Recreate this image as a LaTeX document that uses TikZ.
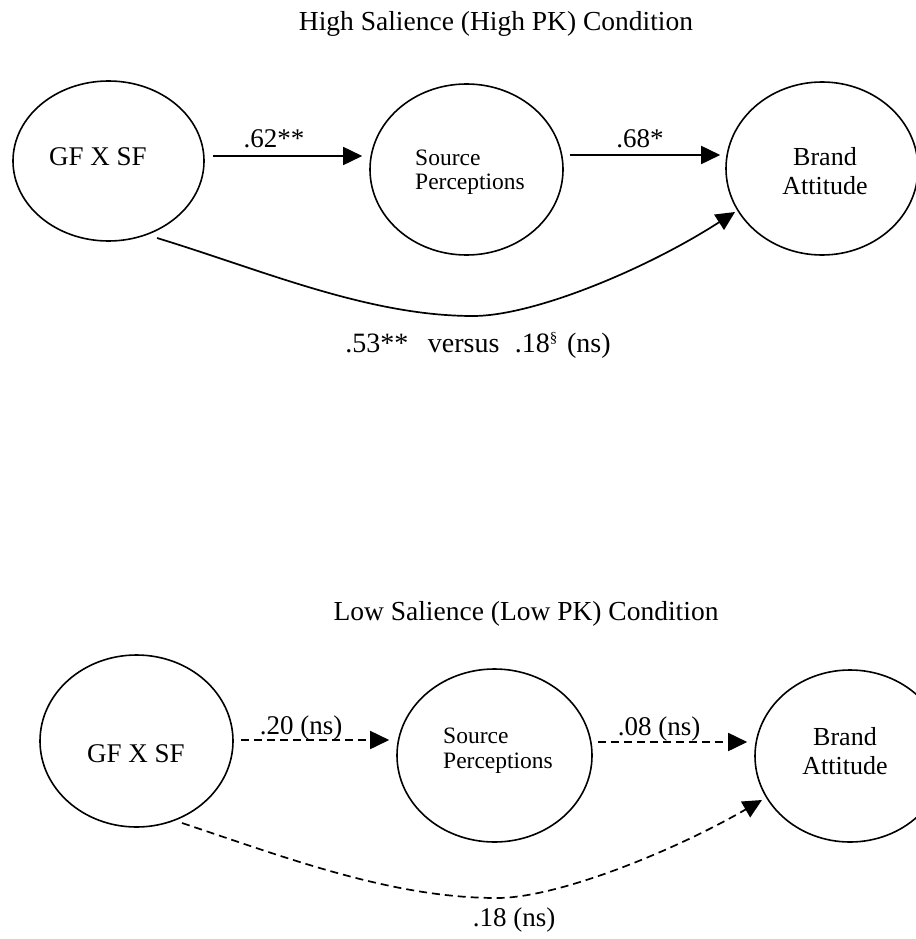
\documentclass[tikz,border=0pt]{standalone}
\usepackage{fontspec}
\setmainfont{Liberation Serif}
\usetikzlibrary{shapes.geometric,arrows.meta}
\begin{document}
\begin{tikzpicture}[x=1pt,y=-1pt,
  oval/.style={draw,ellipse,line width=1.6pt,inner sep=0pt},
  txt/.style={font=\fontsize{27}{30}\selectfont,inner sep=0pt,anchor=base},
  ttl/.style={font=\fontsize{27.5}{30}\selectfont,inner sep=0pt,anchor=base},
  sptxt/.style={font=\fontsize{23.5}{25}\selectfont,inner sep=0pt,anchor=base west},
  battxt/.style={font=\fontsize{26}{30}\selectfont,inner sep=0pt,anchor=base},
  arr/.style={line width=1.7pt,-{Triangle[length=19pt,width=18pt]}},
  darr/.style={arr,dash pattern=on 8pt off 5pt}]
\useasboundingbox (0,0) rectangle (915,939);
\fill[white] (0,0) rectangle (915,939);

% ---------- High salience ----------
\node[ttl] (t1) at (496,31) {High Salience (High PK) Condition};
\node[oval,minimum width=191pt,minimum height=160pt] (g1) at (108.5,161) {};
\node[oval,minimum width=193pt,minimum height=171pt] (s1) at (466.5,169.5) {};
\node[oval,minimum width=192pt,minimum height=173pt] (b1) at (822,168.5) {};
\node[txt] (g1t) at (98,165) {GF X SF};
\node[sptxt] (s1a) at (415,165) {Source};
\node[sptxt] (s1b) at (415,189) {Perceptions};
\node[battxt] (b1a) at (825,165) {Brand};
\node[battxt] (b1b) at (825,194) {Attitude};

\draw[arr] ([shift={(8,-5)}]g1.east) -- ([shift={(-7,-13.5)}]s1.west);
\draw[arr] ([shift={(6,-14.5)}]s1.east) -- ([shift={(-5,-13.5)}]b1.west);
\node[txt] (l1) at (274,147) {.62**};
\node[txt] (l2) at (640,147) {.68*};

\draw[arr] ([shift={(48.5,77)}]g1.center)
  .. controls (262,270) and (368,316) .. (473,316)
  .. controls (533,316) and (645,270) .. ([shift={(-87,43.5)}]b1.center);
\node[font=\fontsize{28}{30}\selectfont,inner sep=0pt,anchor=base] (l3) at (478,352) {.53**\hspace{0.7em}versus\hspace{0.55em}.18{\fontsize{15}{15}\selectfont\raisebox{10pt}{§}}\hspace{0.1em} (ns)};

% ---------- Low salience ----------
\node[ttl] (t2) at (526,620) {Low Salience (Low PK) Condition};
\node[oval,minimum width=193pt,minimum height=172pt] (g2) at (136.5,741) {};
\node[oval,minimum width=195pt,minimum height=173pt] (s2) at (494.5,755.5) {};
\node[oval,minimum width=190pt,minimum height=172pt] (b2) at (850,756) {};
\node[txt] (g2t) at (136,762) {GF X SF};
\node[sptxt] (s2a) at (443,743) {Source};
\node[sptxt] (s2b) at (443,768) {Perceptions};
\node[battxt] (b2a) at (845,745) {Brand};
\node[battxt] (b2b) at (845,774) {Attitude};

\draw[darr] ([shift={(7,-1)}]g2.east) -- ([shift={(-7,-15.5)}]s2.west);
\draw[darr] ([shift={(5,-13.5)}]s2.east) -- ([shift={(-7,-14)}]b2.west);
\node[txt] (l4) at (301,734) {.20 (ns)};
\node[txt] (l5) at (659,735) {.08 (ns)};

\draw[darr] ([shift={(45.5,82)}]g2.center)
  .. controls (287,858) and (392,898) .. (497,898)
  .. controls (557,898) and (672,852) .. ([shift={(-88,44)}]b2.center);
\node[txt] (l6) at (514,926) {.18 (ns)};
\end{tikzpicture}
\end{document}
